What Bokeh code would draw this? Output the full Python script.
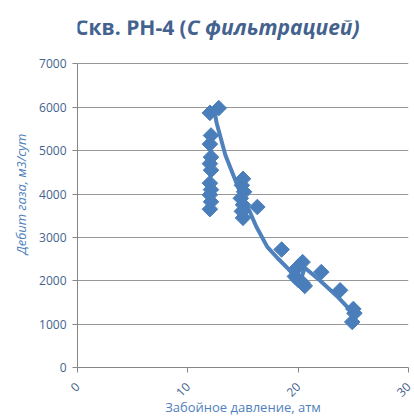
import math
from bokeh.plotting import figure
from bokeh.models import Range1d, FixedTicker, Label
from bokeh.embed import file_html
from bokeh.resources import INLINE

# Measured points: bottom-hole pressure (atm) vs gas rate (m3/day)
pressure = [12.0, 12.8, 12.1, 12.0, 12.1, 12.0, 12.1, 12.0, 12.1, 12.0, 12.1, 12.0,
            15.0, 14.9, 15.1, 14.8, 15.0, 14.9, 15.0,
            16.3, 18.5, 20.4, 19.9, 19.7, 20.0, 20.6, 20.4, 22.1, 23.8, 25.0, 25.1, 24.9]
rate = [5870, 5980, 5350, 5150, 4850, 4700, 4550, 4250, 4100, 3980, 3820, 3650,
        4350, 4200, 4050, 3900, 3750, 3600, 3450,
        3700, 2720, 2430, 2300, 2100, 2020, 1880, 1950, 2200, 1780, 1350, 1250, 1050]

# Trend line
trend_p = [12.4, 12.6, 13.4, 14.1, 14.8, 15.6, 16.2, 17.2, 18.1, 19.0, 19.7, 20.2, 20.6, 22.0, 23.5, 25.0]
trend_q = [5950, 5650, 4900, 4450, 4000, 3600, 3250, 2780, 2530, 2300, 2100, 2000, 2300, 2000, 1650, 1250]

x_ticks = [0, 10, 20, 30]
y_ticks = [0, 1000, 2000, 3000, 4000, 5000, 6000, 7000]

title_main = "Скв. РН-4 ("
title_italic = "С фильтрацией)"
x_label = "Забойное давление, атм"
y_label = "Дебит газа, м3/сут"

BLUE = "#4A7EBB"
TXT = "#44628E"
FONT = "Open Sans"

# y range extends above 7000 only to host the title; axis/grid are bounded to 0..7000
p = figure(width=414, height=418, output_backend="svg", toolbar_location=None,
           x_range=Range1d(0, 30), y_range=Range1d(0, 8000),
           min_border_left=77, min_border_right=6, min_border_top=20, min_border_bottom=50)
p.outline_line_color = None
p.background_fill_color = "white"
p.border_fill_color = "white"

p.line(trend_p, trend_q, line_color="#4F81BD", line_width=4)
p.scatter(pressure, rate, marker="square", angle=math.pi / 4, size=11,
          fill_color=BLUE, line_color=BLUE)

p.xgrid.grid_line_color = None
p.ygrid.grid_line_color = "#979797"
p.ygrid.grid_line_width = 1
p.ygrid.bounds = (0, 7000)

p.xaxis.ticker = FixedTicker(ticks=x_ticks)
p.yaxis.ticker = FixedTicker(ticks=y_ticks)
p.yaxis.bounds = (0, 7000)
p.xaxis.minor_tick_line_color = None
p.yaxis.minor_tick_line_color = None
for ax in (p.xaxis, p.yaxis):
    ax.axis_line_color = "#868686"
    ax.major_tick_line_color = "#868686"
    ax.major_tick_out = 5
    ax.major_tick_in = 0
    ax.major_label_text_color = TXT
    ax.major_label_text_font = FONT
    ax.major_label_text_font_size = "12px"
    ax.axis_label_text_color = "#4F81BD"
    ax.axis_label_text_font = FONT
    ax.axis_label_text_font_size = "13px"

p.xaxis.axis_label = x_label
p.xaxis.axis_label_text_font_style = "normal"
p.xaxis.major_label_orientation = math.pi / 4
p.xaxis.major_label_standoff = 12
p.xaxis.axis_label_standoff = -6
p.yaxis.axis_label = y_label
p.yaxis.axis_label_text_font_style = "italic"
p.yaxis.major_label_standoff = 6
p.yaxis.axis_label_standoff = 6

# Title in two parts (bold + bold italic), placed in the area above 7000
p.add_layout(Label(x=9.9, y=7840, text=title_main,
                   text_font=FONT, text_font_size="21px", text_font_style="bold",
                   text_color=TXT, text_align="right", text_baseline="middle"))
p.add_layout(Label(x=9.9, y=7840, text=title_italic,
                   text_font=FONT, text_font_size="21px", text_font_style="bold italic",
                   text_color=TXT, text_align="left", text_baseline="middle"))

open("out.html", "w").write(file_html(p, INLINE))
